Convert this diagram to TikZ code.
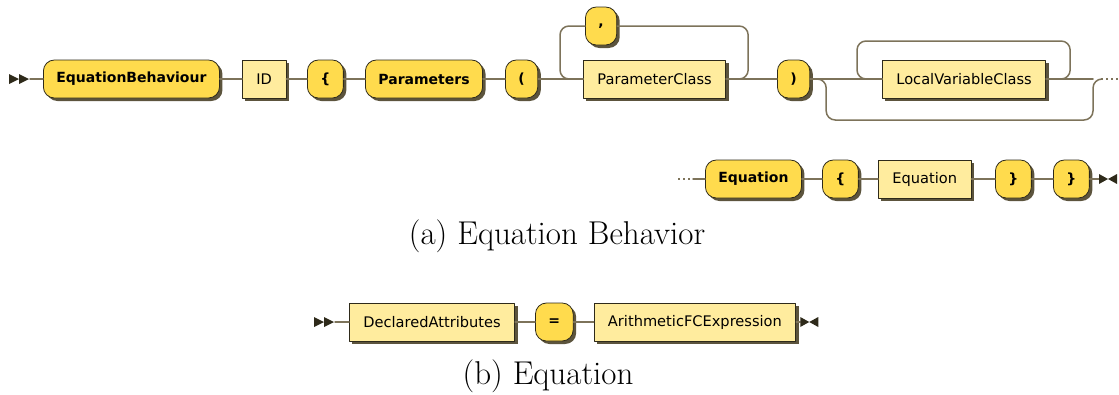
\documentclass[tikz,border=0pt]{standalone}
\usepackage{fontspec}
\newfontfamily\rrfont{DejaVu Sans}
\usetikzlibrary{positioning,shadows,calc}
\definecolor{termfill}{HTML}{FFDB4D}
\definecolor{ntfill}{HTML}{FFEC9E}
\definecolor{boxline}{HTML}{2E2A1A}
\definecolor{railc}{HTML}{7D735A}
\definecolor{shadc}{HTML}{4A4128}
\begin{document}
\begin{tikzpicture}[x=1pt, y=-1pt, line join=round, line cap=round,
  box/.style={draw=boxline, line width=0.8pt, minimum height=38pt, inner xsep=14pt, inner ysep=0pt, anchor=west,
    drop shadow={shadow xshift=3pt, shadow yshift=-3pt, fill=shadc, opacity=0.9},
    font=\rrfont\fontsize{14.6}{17}\selectfont},
  term/.style={box, fill=termfill, rounded corners=11pt, inner xsep=13pt, font=\rrfont\bfseries\fontsize{14}{17}\selectfont},
  nterm/.style={box, fill=ntfill},
  rail/.style={draw=railc, line width=1.5pt},
  loop/.style={rail, rounded corners=9pt},
  caption/.style={font=\fontsize{33}{38}\selectfont}]
\useasboundingbox (0,0) rectangle (1119,394);

% (a) first row
\coordinate (s1) at (30,79);
\fill[boxline] (9,74) -- (19,79) -- (9,84) -- cycle (19,74) -- (29,79) -- (19,84) -- cycle;
\node[term] (eb) at (43,79) {EquationBehaviour};
\node[nterm] (id) at (242,79) {ID};
\node[term] (lb1) at (307,79) {\{};
\node[term] (par) at (365,79) {Parameters};
\node[term] (lp) at (505,79) {(};
\node[nterm] (pc) at (583,79) {ParameterClass};
\node[term] (comma) at (585,26) {,};
\node[term] (rp) at (777,79) {)};
\node[nterm] (lvc) at (882,79) {LocalVariableClass};
\coordinate (e1) at (1093,79);
\coordinate (e2) at (1101,79);
\coordinate (e3) at (1119,79);

\draw[rail] (s1) -- (eb) -- (id) -- (lb1) -- (par) -- (lp) -- (pc) -- (rp) -- (lvc) -- (e1);
\draw[loop] (pc.east) -- ++(22,0) |- (comma.east);
\draw[loop] (comma.west) -| ($(pc.west)+(-23,0)$) -- (pc.west);
\draw[loop] (lvc.east) -- ++(24,0) -- ++(0,-38) -| ($(lvc.west)+(-25,0)$) -- (lvc.west);
\draw[loop] (rp.east) -- ++(16,0) -- ++(0,41) -| (e1) -- (e2);
\draw[rail, line cap=butt, dash pattern=on 2pt off 3pt] (e2) -- (e3);

% (a) second row
\coordinate (d1) at (678,179);
\coordinate (d2) at (693,179);
\node[term] (eq) at (705,179) {Equation};
\node[term] (lb2) at (822,179) {\{};
\node[nterm] (eqn) at (878,179) {Equation};
\node[term] (rb1) at (995,179) {\}};
\node[term] (rb2) at (1053,179) {\}};
\coordinate (f1) at (1099,179);
\draw[rail, line cap=butt, dash pattern=on 2pt off 3pt] (d1) -- (d2);
\draw[rail] (d2) -- (eq) -- (lb2) -- (eqn) -- (rb1) -- (rb2) -- (f1);
\fill[boxline] (f1) -- ++(0,-5) -- ++(9,5) -- ++(9,-5) -- ++(0,10) -- ++(-9,-5) -- ++(-9,5) -- cycle;

\node[caption] (capa) at (557,236) {(a) Equation Behavior};

% (b)
\coordinate (s2) at (335,322);
\fill[boxline] (314,317) -- (324,322) -- (314,327) -- cycle (324,317) -- (334,322) -- (324,327) -- cycle;
\node[nterm] (da) at (349,322) {DeclaredAttributes};
\node[term, right=20pt of da] (eqs) {=};
\node[nterm, right=20pt of eqs] (afc) {ArithmeticFCExpression};
\coordinate (f2) at ($(afc.east)+(4,0)$);
\draw[rail] (s2) -- (da) -- (eqs) -- (afc) -- (f2);
\fill[boxline] (f2) -- ++(0,-5) -- ++(9,5) -- ++(9,-5) -- ++(0,10) -- ++(-9,-5) -- ++(-9,5) -- cycle;

\node[caption] (capb) at (548,376) {(b) Equation};
\end{tikzpicture}
\end{document}
